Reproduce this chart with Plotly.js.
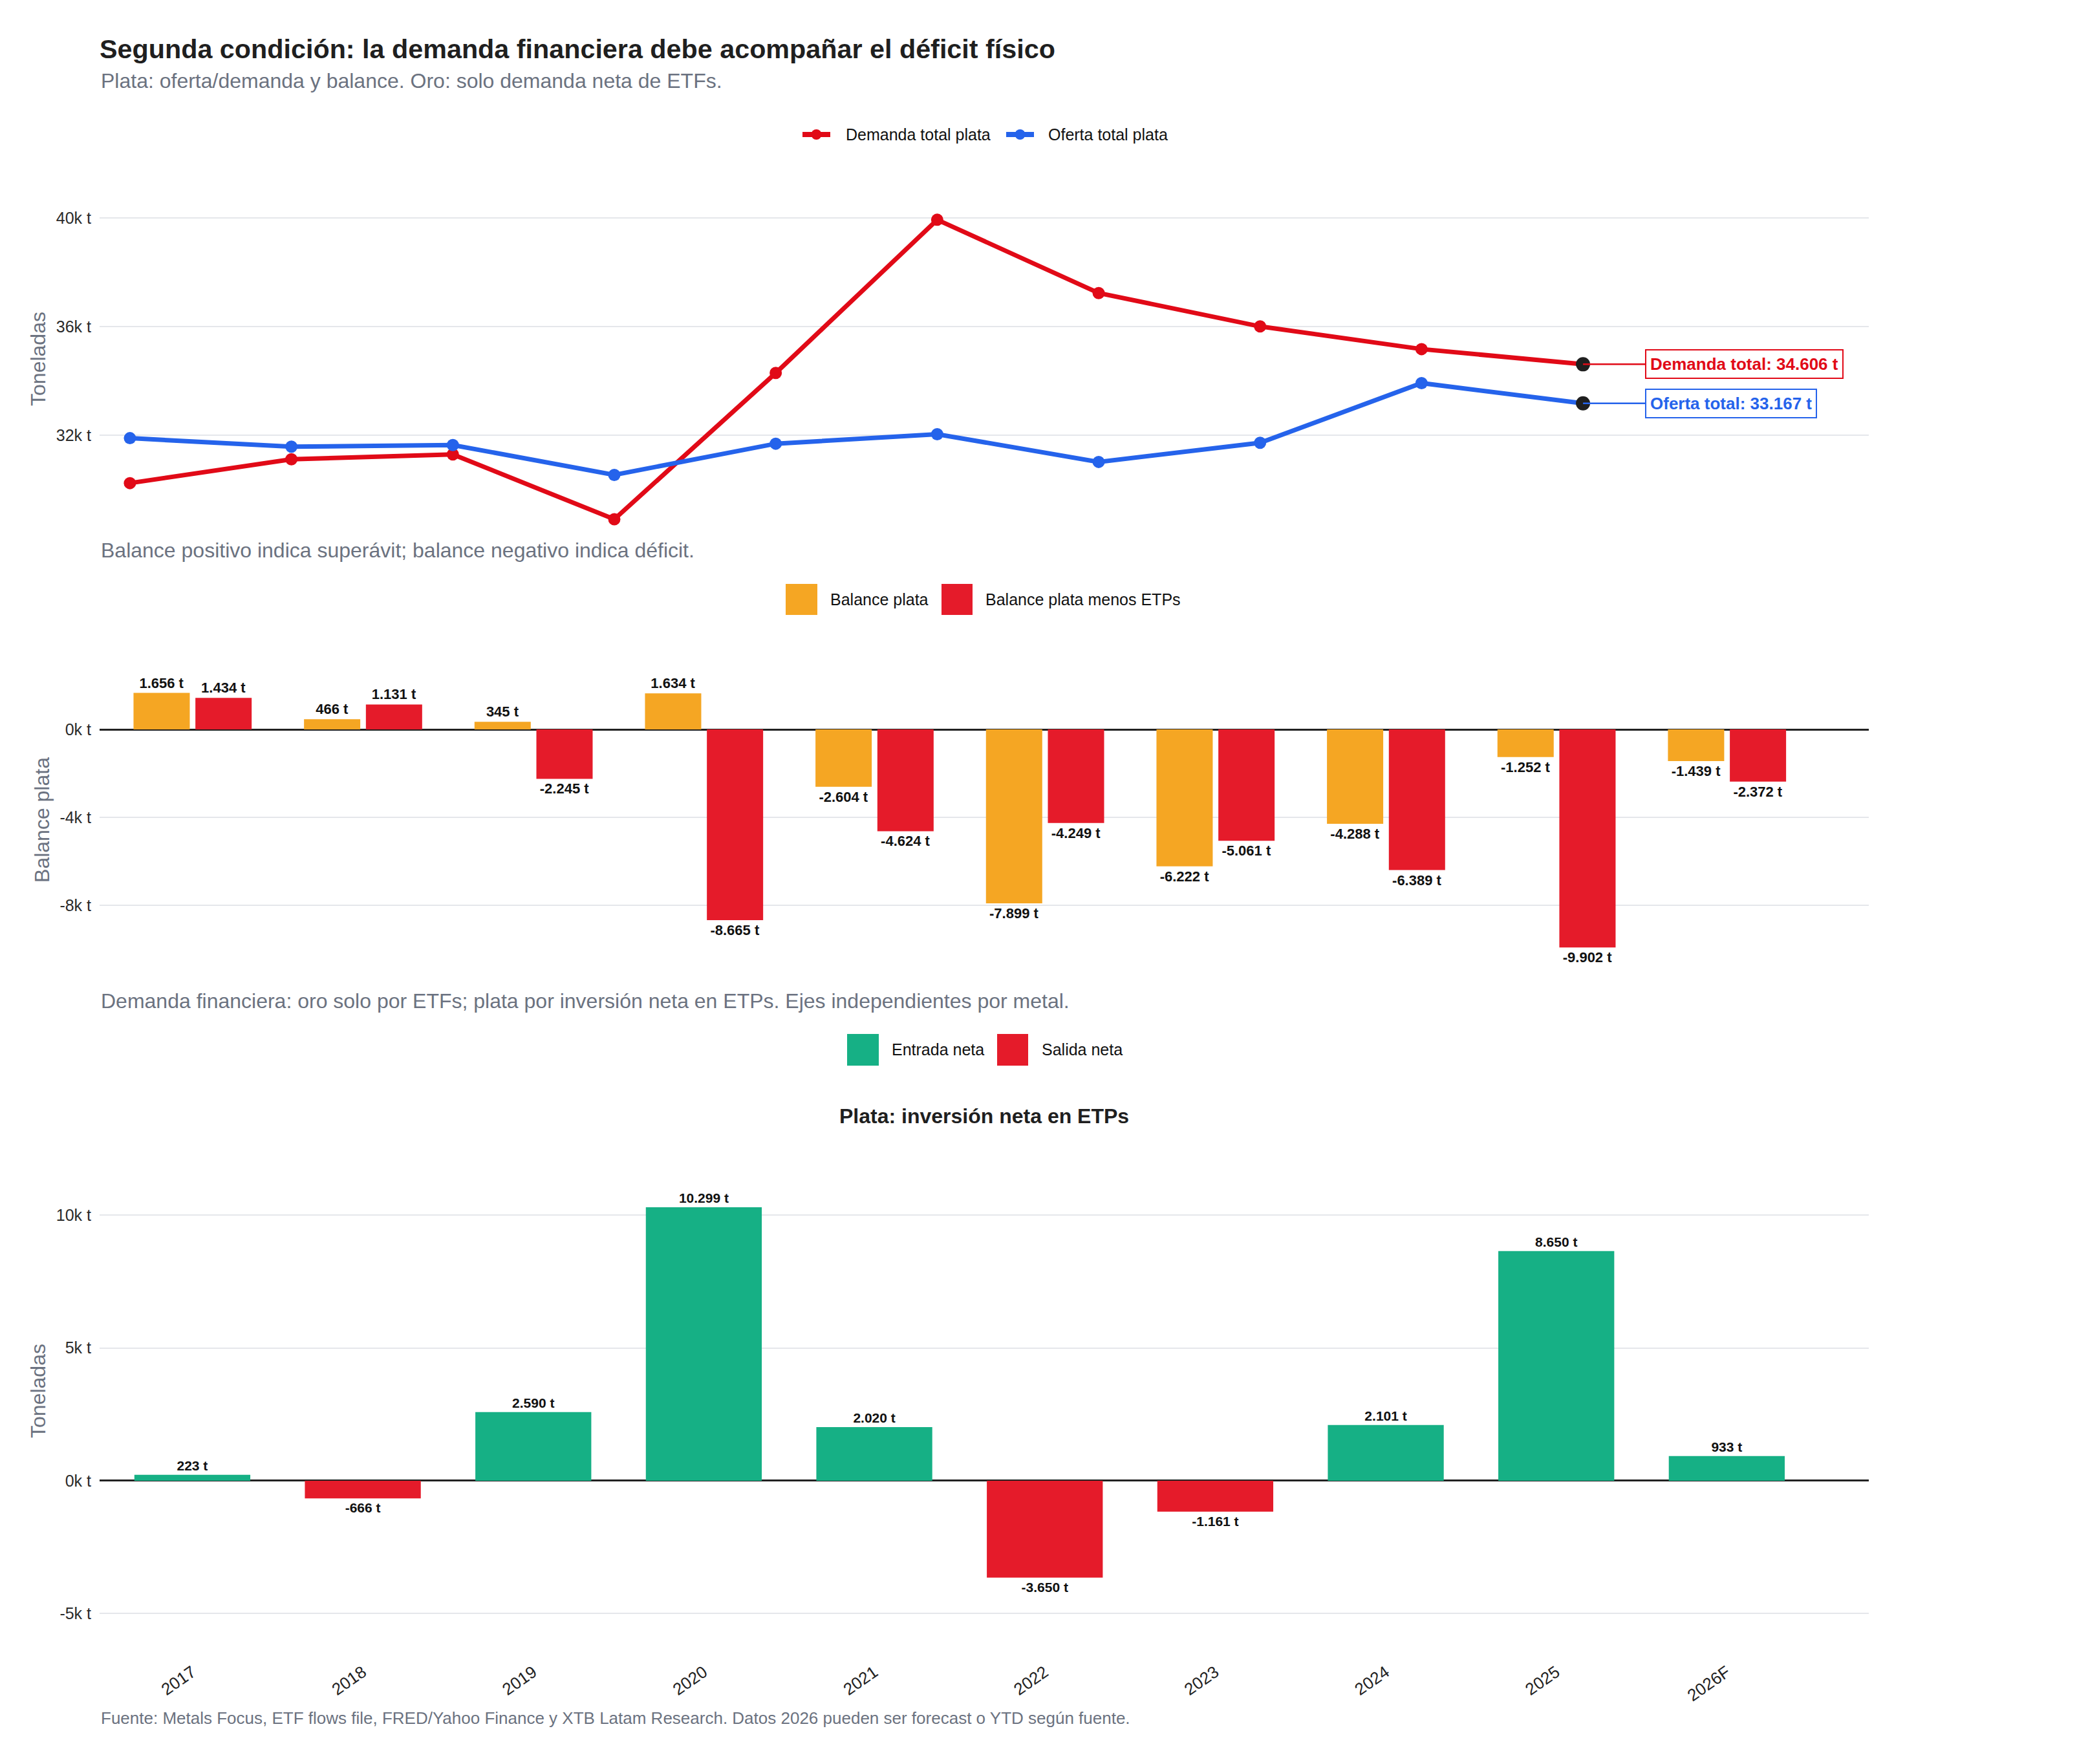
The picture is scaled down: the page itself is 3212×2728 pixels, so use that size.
<!DOCTYPE html>
<html>
<head>
<meta charset="utf-8">
<script src="https://cdn.plot.ly/plotly-3.0.1.min.js"></script>
<style>html,body{margin:0;padding:0;background:#fff;}</style>
</head>
<body>
<div id="chart" style="width:3212px;height:2728px;"></div>
<script>
// ---------- DATA ----------
const years = ['2017','2018','2019','2020','2021','2022','2023','2024','2025','2026F'];
const demandaTotal = [30228, 31105, 31285, 28897, 34285, 39930, 37230, 36000, 35165, 34606];
const ofertaTotal  = [31884, 31571, 31630, 30531, 31681, 32031, 31008, 31712, 33913, 33167];
const balancePlata = [1656, 466, 345, 1634, -2604, -7899, -6222, -4288, -1252, -1439];
const balanceMenosETPs = [1434, 1131, -2245, -8665, -4624, -4249, -5061, -6389, -9902, -2372];
const inversionNetaETPs = [223, -666, 2590, 10299, 2020, -3650, -1161, 2101, 8650, 933];

const topTickVals = [32000, 36000, 40000];
const topTickText = ['32k t', '36k t', '40k t'];
const midTickVals = [-8000, -4000, 0];
const midTickText = ['-8k t', '-4k t', '0k t'];
const botTickVals = [-5000, 0, 5000, 10000];
const botTickText = ['-5k t', '0k t', '5k t', '10k t'];

const seriesNames = {
  demanda: 'Demanda total plata',
  oferta: 'Oferta total plata',
  balance: 'Balance plata',
  balanceETP: 'Balance plata menos ETPs',
  entrada: 'Entrada neta',
  salida: 'Salida neta'
};

// ---------- STYLE ----------
const W = 3212, H = 2728;
const ML = 154, MR = 322;
const PW = W - ML - MR;
const FONT = '"Liberation Sans", Arial, Helvetica, sans-serif';
const RED_LINE = '#e10a17';
const BLUE = '#2563eb';
const ORANGE = '#f5a623';
const RED_BAR = '#e51b2a';
const GREEN = '#16b085';
const GRAY = '#6b7280';
const DARK = '#1f1f1f';
const GRID = '#e5e7eb';

const fy = px => 1 - px / H;            // page pixel (from top) -> paper fraction
const fx = px => (px - ML) / PW;        // page pixel (from left) -> paper fraction
const dom = (top, bot) => [fy(bot), fy(top)];
const fmt = v => {
  const s = Math.abs(Math.round(v)).toString().replace(/\B(?=(\d{3})+(?!\d))/g, '.');
  return (v < 0 ? '-' : '') + s;
};
const last = years.length - 1;

// ---------- TRACES ----------
const traces = [
  {
    type: 'scatter', mode: 'lines+markers', name: seriesNames.demanda, showlegend: false,
    x: years, y: demandaTotal, xaxis: 'x', yaxis: 'y',
    line: {color: RED_LINE, width: 7}, marker: {color: RED_LINE, size: 19}, hoverinfo: 'skip'
  },
  {
    type: 'scatter', mode: 'lines+markers', name: seriesNames.oferta, showlegend: false,
    x: years, y: ofertaTotal, xaxis: 'x', yaxis: 'y',
    line: {color: BLUE, width: 7}, marker: {color: BLUE, size: 19}, hoverinfo: 'skip'
  },
  {
    type: 'scatter', mode: 'markers', showlegend: false,
    x: [years[last], years[last]], y: [demandaTotal[last], ofertaTotal[last]],
    xaxis: 'x', yaxis: 'y', marker: {color: DARK, size: 22}, hoverinfo: 'skip'
  },
  {
    type: 'bar', name: seriesNames.balance, showlegend: false,
    x: years, y: balancePlata, xaxis: 'x2', yaxis: 'y2',
    marker: {color: ORANGE}, width: 0.33, offset: -0.345,
    texttemplate: '%{y:,.0f} t', textposition: 'outside', constraintext: 'none',
    textfont: {size: 22, color: '#111', family: FONT, weight: 'bold'},
    cliponaxis: false, hoverinfo: 'skip'
  },
  {
    type: 'bar', name: seriesNames.balanceETP, showlegend: false,
    x: years, y: balanceMenosETPs, xaxis: 'x2', yaxis: 'y2',
    marker: {color: RED_BAR}, width: 0.33, offset: 0.018,
    texttemplate: '%{y:,.0f} t', textposition: 'outside', constraintext: 'none',
    textfont: {size: 22, color: '#111', family: FONT, weight: 'bold'},
    cliponaxis: false, hoverinfo: 'skip'
  },
  {
    type: 'bar', name: 'Plata: inversión neta en ETPs', showlegend: false,
    x: years, y: inversionNetaETPs, xaxis: 'x3', yaxis: 'y3',
    marker: {color: inversionNetaETPs.map(v => v >= 0 ? GREEN : RED_BAR)},
    width: 0.68,
    texttemplate: '%{y:,.0f} t', textposition: 'outside', constraintext: 'none',
    textfont: {size: 21, color: '#111', family: FONT, weight: 'bold'},
    cliponaxis: false, hoverinfo: 'skip'
  }
];

// ---------- AXES ----------
const baseX = {
  type: 'category', categoryorder: 'array', categoryarray: years,
  showgrid: false, zeroline: false, showline: false, ticks: '', automargin: false,
  domain: [0, 1], fixedrange: true
};
const baseY = {
  showgrid: true, gridcolor: GRID, gridwidth: 2, showline: false, ticks: '',
  automargin: false, tickfont: {size: 25, color: '#2b2b2b'}, ticklabelstandoff: 12,
  fixedrange: true
};
const axTitle = t => ({text: t, font: {size: 32, color: GRAY}, standoff: 6});

// ---------- CUSTOM LEGENDS ----------
const legendTexts = [
  {px: 1306, py: 208, text: seriesNames.demanda},
  {px: 1619, py: 208, text: seriesNames.oferta},
  {px: 1282, py: 927, text: seriesNames.balance},
  {px: 1522, py: 927, text: seriesNames.balanceETP},
  {px: 1377, py: 1623, text: seriesNames.entrada},
  {px: 1609, py: 1623, text: seriesNames.salida}
];
const lineSwatch = (x0, x1, py, color) => [
  {type: 'line', xref: 'paper', yref: 'paper', x0: fx(x0), x1: fx(x1), y0: fy(py), y1: fy(py),
   line: {color: color, width: 8}},
  {type: 'circle', xref: 'paper', yref: 'paper', x0: fx((x0 + x1) / 2 - 8), x1: fx((x0 + x1) / 2 + 8),
   y0: fy(py + 8), y1: fy(py - 8), fillcolor: color, line: {width: 0}}
];
const boxSwatch = (x0, x1, y0, y1, color) => (
  {type: 'rect', xref: 'paper', yref: 'paper', x0: fx(x0), x1: fx(x1), y0: fy(y1), y1: fy(y0),
   fillcolor: color, line: {width: 0}}
);

const layout = {
  width: W, height: H,
  margin: {l: ML, r: MR, t: 0, b: 0, autoexpand: false},
  paper_bgcolor: '#ffffff', plot_bgcolor: '#ffffff',
  font: {family: FONT, size: 24, color: '#222'},
  separators: ',.',
  barmode: 'group',
  showlegend: false,
  title: {
    text: '<b>Segunda condición: la demanda financiera debe acompañar el déficit físico</b>',
    xref: 'paper', x: 0, xanchor: 'left',
    yref: 'container', y: fy(76), yanchor: 'middle',
    font: {size: 41.3, color: DARK, family: FONT}
  },
  xaxis: Object.assign({}, baseX, {anchor: 'y', range: [-0.188, 10.77], showticklabels: false}),
  yaxis: Object.assign({}, baseY, {
    domain: dom(292, 818), range: [28540, 41070], zeroline: false,
    tickmode: 'array', tickvals: topTickVals, ticktext: topTickText,
    title: axTitle('Toneladas')
  }),
  xaxis2: Object.assign({}, baseX, {anchor: 'y2', range: [-0.544, 9.833], showticklabels: false}),
  yaxis2: Object.assign({}, baseY, {
    domain: dom(1036, 1500), range: [-10925, 2702],
    zeroline: true, zerolinecolor: '#222', zerolinewidth: 3,
    tickmode: 'array', tickvals: midTickVals, ticktext: midTickText,
    title: axTitle('Balance plata')
  }),
  xaxis3: Object.assign({}, baseX, {
    anchor: 'y3', range: [-0.544, 9.833], showticklabels: true,
    tickangle: -35, tickfont: {size: 26, color: '#222'}, ticklabelstandoff: 8
  }),
  yaxis3: Object.assign({}, baseY, {
    domain: dom(1745, 2557), range: [-6503, 13273],
    zeroline: true, zerolinecolor: '#222', zerolinewidth: 3,
    tickmode: 'array', tickvals: botTickVals, ticktext: botTickText,
    title: axTitle('Toneladas')
  }),
  annotations: [
    {xref: 'paper', yref: 'paper', x: 0, y: fy(125), xanchor: 'left', yanchor: 'middle', showarrow: false,
     text: 'Plata: oferta/demanda y balance. Oro: solo demanda neta de ETFs.', font: {size: 32, color: GRAY}},
    {xref: 'paper', yref: 'paper', x: 0, y: fy(851), xanchor: 'left', yanchor: 'middle', showarrow: false,
     text: 'Balance positivo indica superávit; balance negativo indica déficit.', font: {size: 32, color: GRAY}},
    {xref: 'paper', yref: 'paper', x: 0, y: fy(1548), xanchor: 'left', yanchor: 'middle', showarrow: false,
     text: 'Demanda financiera: oro solo por ETFs; plata por inversión neta en ETPs. Ejes independientes por metal.',
     font: {size: 32, color: GRAY}},
    {xref: 'paper', yref: 'paper', x: 0.5, y: fy(1726), xanchor: 'center', yanchor: 'middle', showarrow: false,
     text: '<b>Plata: inversión neta en ETPs</b>', font: {size: 32, color: DARK}},
    {xref: 'paper', yref: 'paper', x: 0, y: fy(2657), xanchor: 'left', yanchor: 'middle', showarrow: false,
     text: 'Fuente: Metals Focus, ETF flows file, FRED/Yahoo Finance y XTB Latam Research. Datos 2026 pueden ser forecast o YTD según fuente.',
     font: {size: 26, color: GRAY}},
    {xref: 'x', yref: 'y', x: years[last], y: demandaTotal[last], showarrow: true, arrowhead: 0,
     arrowwidth: 2.5, arrowcolor: RED_LINE, ax: 96, ay: 0, xanchor: 'left', yanchor: 'middle',
     text: '<b>Demanda total: ' + fmt(demandaTotal[last]) + ' t</b>',
     font: {size: 26, color: RED_LINE}, bgcolor: '#ffffff', bordercolor: RED_LINE, borderwidth: 2, borderpad: 6},
    {xref: 'x', yref: 'y', x: years[last], y: ofertaTotal[last], showarrow: true, arrowhead: 0,
     arrowwidth: 2.5, arrowcolor: BLUE, ax: 96, ay: 0, xanchor: 'left', yanchor: 'middle',
     text: '<b>Oferta total: ' + fmt(ofertaTotal[last]) + ' t</b>',
     font: {size: 26, color: BLUE}, bgcolor: '#ffffff', bordercolor: BLUE, borderwidth: 2, borderpad: 6}
  ].concat(legendTexts.map(l => ({
    xref: 'paper', yref: 'paper', x: fx(l.px), y: fy(l.py), xanchor: 'left', yanchor: 'middle',
    showarrow: false, text: l.text, font: {size: 25, color: '#111'}
  }))),
  shapes: [].concat(
    lineSwatch(1241, 1284, 208, RED_LINE),
    lineSwatch(1556, 1599, 208, BLUE),
    [
      boxSwatch(1215, 1264, 903, 951, ORANGE),
      boxSwatch(1456, 1504, 903, 951, RED_BAR),
      boxSwatch(1310, 1359, 1599, 1648, GREEN),
      boxSwatch(1542, 1590, 1599, 1648, RED_BAR)
    ]
  )
};

Plotly.newPlot('chart', traces, layout, {staticPlot: true, displayModeBar: false});
</script>
</body>
</html>
